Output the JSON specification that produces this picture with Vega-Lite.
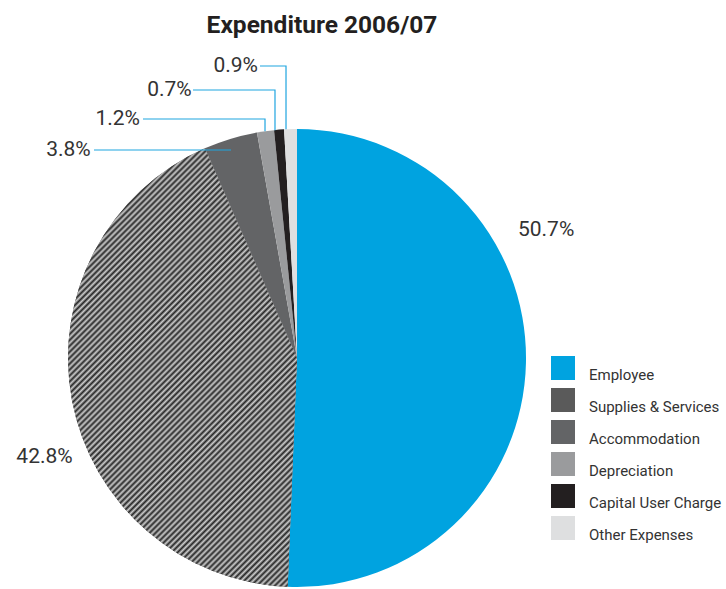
{
  "$schema": "https://vega.github.io/schema/vega-lite/v6.json",
  "width": 726,
  "height": 544,
  "autosize": {"type": "none"},
  "padding": {"left": 0, "top": 45, "right": 0, "bottom": 0},
  "title": {"text": "Expenditure 2006/07", "fontSize": 24.5, "fontWeight": "bold", "color": "#231f20", "anchor": "middle", "frame": "group", "dx": -41, "baseline": "alphabetic", "offset": -12},
  "config": {"view": {"stroke": null}, "font": "Roboto, sans-serif"},
  "datasets": {
    "slices": [
      {"cat": "Employee", "v": 50.7, "i": 1},
      {"cat": "Supplies & Services", "v": 42.8, "i": 2},
      {"cat": "Accommodation", "v": 3.8, "i": 3},
      {"cat": "Depreciation", "v": 1.2, "i": 4},
      {"cat": "Capital User Charge", "v": 0.7, "i": 5},
      {"cat": "Other Expenses", "v": 0.9, "i": 6}
    ],
    "leaders": [
      {"g": "a", "i": 0, "u": -0.1616, "v": 1.2751},
      {"g": "a", "i": 1, "u": -0.048, "v": 1.2751},
      {"g": "a", "i": 2, "u": -0.048, "v": 0.999},
      {"g": "b", "i": 0, "u": -0.4541, "v": 1.1703},
      {"g": "b", "i": 1, "u": -0.0961, "v": 1.1703},
      {"g": "b", "i": 2, "u": -0.0961, "v": 0.995},
      {"g": "c", "i": 0, "u": -0.6725, "v": 1.0437},
      {"g": "c", "i": 1, "u": -0.1397, "v": 1.0437},
      {"g": "c", "i": 2, "u": -0.1397, "v": 0.99},
      {"g": "d", "i": 0, "u": -0.8865, "v": 0.9083},
      {"g": "d", "i": 1, "u": -0.2882, "v": 0.9083}
    ],
    "labels": [
      {"t": "0.9%", "u": -0.1703, "v": 1.2751},
      {"t": "0.7%", "u": -0.4598, "v": 1.1703},
      {"t": "1.2%", "u": -0.6856, "v": 1.0437},
      {"t": "3.8%", "u": -0.9009, "v": 0.9083},
      {"t": "50.7%", "u": 1.2109, "v": 0.5585},
      {"t": "42.8%", "u": -0.9795, "v": -0.4332}
    ]
  },
  "layer": [
    {
      "data": {"name": "slices"},
      "mark": {"type": "arc", "outerRadius": 229},
      "encoding": {
        "x": {"datum": 0, "type": "quantitative", "scale": {"domain": [-1.29694, 1.87336], "nice": false, "zero": false}, "axis": null},
        "y": {"datum": 0, "type": "quantitative", "scale": {"domain": [-1.00873, 1.36681], "nice": false, "zero": false}, "axis": null},
        "theta": {"field": "v", "type": "quantitative", "stack": true},
        "order": {"field": "i", "type": "quantitative"},
        "color": {
          "field": "cat", "type": "nominal",
          "scale": {
            "domain": ["Employee", "Supplies & Services", "Accommodation", "Depreciation", "Capital User Charge", "Other Expenses"],
            "range": ["#00a3e0", "#5a5a5a", "#636466", "#9a9b9d", "#231f20", "#dedfe0"]
          },
          "legend": {
            "title": null, "orient": "none", "legendX": 551, "legendY": 311,
            "symbolType": "square", "symbolSize": 576, "symbolStrokeWidth": 0,
            "labelFont": "Roboto", "labelFontSize": 15, "labelColor": "#333333", "labelOffset": 14, "labelBaseline": "top", "rowPadding": 5, "padding": 0, "labelLimit": 300
          }
        }
      }
    },
    {
      "data": {"name": "slices"},
      "mark": {
        "type": "arc", "outerRadius": 229,
        "fill": {
          "gradient": "linear", "x1": 0.014478, "y1": 0.027755, "x2": 0.70757, "y2": 1.35644,
          "stops": [
            {"offset":0,"color":"#262626"},{"offset":0.004,"color":"#ccc"},{"offset":0.008,"color":"#262626"},{"offset":0.012,"color":"#ccc"},{"offset":0.016,"color":"#262626"},{"offset":0.02,"color":"#ccc"},{"offset":0.024,"color":"#262626"},{"offset":0.028,"color":"#ccc"},{"offset":0.032,"color":"#262626"},{"offset":0.036,"color":"#ccc"},{"offset":0.04,"color":"#262626"},{"offset":0.044,"color":"#ccc"},{"offset":0.048,"color":"#262626"},{"offset":0.052,"color":"#ccc"},{"offset":0.056,"color":"#262626"},{"offset":0.06,"color":"#ccc"},{"offset":0.064,"color":"#262626"},{"offset":0.068,"color":"#ccc"},{"offset":0.072,"color":"#262626"},{"offset":0.076,"color":"#ccc"},{"offset":0.08,"color":"#262626"},{"offset":0.084,"color":"#ccc"},{"offset":0.088,"color":"#262626"},{"offset":0.092,"color":"#ccc"},{"offset":0.096,"color":"#262626"},
            {"offset":0.1,"color":"#ccc"},{"offset":0.104,"color":"#262626"},{"offset":0.108,"color":"#ccc"},{"offset":0.112,"color":"#262626"},{"offset":0.116,"color":"#ccc"},{"offset":0.12,"color":"#262626"},{"offset":0.124,"color":"#ccc"},{"offset":0.128,"color":"#262626"},{"offset":0.132,"color":"#ccc"},{"offset":0.136,"color":"#262626"},{"offset":0.14,"color":"#ccc"},{"offset":0.144,"color":"#262626"},{"offset":0.148,"color":"#ccc"},{"offset":0.152,"color":"#262626"},{"offset":0.156,"color":"#ccc"},{"offset":0.16,"color":"#262626"},{"offset":0.164,"color":"#ccc"},{"offset":0.168,"color":"#262626"},{"offset":0.172,"color":"#ccc"},{"offset":0.176,"color":"#262626"},{"offset":0.18,"color":"#ccc"},{"offset":0.184,"color":"#262626"},{"offset":0.188,"color":"#ccc"},{"offset":0.192,"color":"#262626"},{"offset":0.196,"color":"#ccc"},
            {"offset":0.2,"color":"#262626"},{"offset":0.204,"color":"#ccc"},{"offset":0.208,"color":"#262626"},{"offset":0.212,"color":"#ccc"},{"offset":0.216,"color":"#262626"},{"offset":0.22,"color":"#ccc"},{"offset":0.224,"color":"#262626"},{"offset":0.228,"color":"#ccc"},{"offset":0.232,"color":"#262626"},{"offset":0.236,"color":"#ccc"},{"offset":0.24,"color":"#262626"},{"offset":0.244,"color":"#ccc"},{"offset":0.248,"color":"#262626"},{"offset":0.252,"color":"#ccc"},{"offset":0.256,"color":"#262626"},{"offset":0.26,"color":"#ccc"},{"offset":0.264,"color":"#262626"},{"offset":0.268,"color":"#ccc"},{"offset":0.272,"color":"#262626"},{"offset":0.276,"color":"#ccc"},{"offset":0.28,"color":"#262626"},{"offset":0.284,"color":"#ccc"},{"offset":0.288,"color":"#262626"},{"offset":0.292,"color":"#ccc"},{"offset":0.296,"color":"#262626"},
            {"offset":0.3,"color":"#ccc"},{"offset":0.304,"color":"#262626"},{"offset":0.308,"color":"#ccc"},{"offset":0.312,"color":"#262626"},{"offset":0.316,"color":"#ccc"},{"offset":0.32,"color":"#262626"},{"offset":0.324,"color":"#ccc"},{"offset":0.328,"color":"#262626"},{"offset":0.332,"color":"#ccc"},{"offset":0.336,"color":"#262626"},{"offset":0.34,"color":"#ccc"},{"offset":0.344,"color":"#262626"},{"offset":0.348,"color":"#ccc"},{"offset":0.352,"color":"#262626"},{"offset":0.356,"color":"#ccc"},{"offset":0.36,"color":"#262626"},{"offset":0.364,"color":"#ccc"},{"offset":0.368,"color":"#262626"},{"offset":0.372,"color":"#ccc"},{"offset":0.376,"color":"#262626"},{"offset":0.38,"color":"#ccc"},{"offset":0.384,"color":"#262626"},{"offset":0.388,"color":"#ccc"},{"offset":0.392,"color":"#262626"},{"offset":0.396,"color":"#ccc"},
            {"offset":0.4,"color":"#262626"},{"offset":0.404,"color":"#ccc"},{"offset":0.408,"color":"#262626"},{"offset":0.412,"color":"#ccc"},{"offset":0.416,"color":"#262626"},{"offset":0.42,"color":"#ccc"},{"offset":0.424,"color":"#262626"},{"offset":0.428,"color":"#ccc"},{"offset":0.432,"color":"#262626"},{"offset":0.436,"color":"#ccc"},{"offset":0.44,"color":"#262626"},{"offset":0.444,"color":"#ccc"},{"offset":0.448,"color":"#262626"},{"offset":0.452,"color":"#ccc"},{"offset":0.456,"color":"#262626"},{"offset":0.46,"color":"#ccc"},{"offset":0.464,"color":"#262626"},{"offset":0.468,"color":"#ccc"},{"offset":0.472,"color":"#262626"},{"offset":0.476,"color":"#ccc"},{"offset":0.48,"color":"#262626"},{"offset":0.484,"color":"#ccc"},{"offset":0.488,"color":"#262626"},{"offset":0.492,"color":"#ccc"},{"offset":0.496,"color":"#262626"},
            {"offset":0.5,"color":"#ccc"},{"offset":0.504,"color":"#262626"},{"offset":0.508,"color":"#ccc"},{"offset":0.512,"color":"#262626"},{"offset":0.516,"color":"#ccc"},{"offset":0.52,"color":"#262626"},{"offset":0.524,"color":"#ccc"},{"offset":0.528,"color":"#262626"},{"offset":0.532,"color":"#ccc"},{"offset":0.536,"color":"#262626"},{"offset":0.54,"color":"#ccc"},{"offset":0.544,"color":"#262626"},{"offset":0.548,"color":"#ccc"},{"offset":0.552,"color":"#262626"},{"offset":0.556,"color":"#ccc"},{"offset":0.56,"color":"#262626"},{"offset":0.564,"color":"#ccc"},{"offset":0.568,"color":"#262626"},{"offset":0.572,"color":"#ccc"},{"offset":0.576,"color":"#262626"},{"offset":0.58,"color":"#ccc"},{"offset":0.584,"color":"#262626"},{"offset":0.588,"color":"#ccc"},{"offset":0.592,"color":"#262626"},{"offset":0.596,"color":"#ccc"},
            {"offset":0.6,"color":"#262626"},{"offset":0.604,"color":"#ccc"},{"offset":0.608,"color":"#262626"},{"offset":0.612,"color":"#ccc"},{"offset":0.616,"color":"#262626"},{"offset":0.62,"color":"#ccc"},{"offset":0.624,"color":"#262626"},{"offset":0.628,"color":"#ccc"},{"offset":0.632,"color":"#262626"},{"offset":0.636,"color":"#ccc"},{"offset":0.64,"color":"#262626"},{"offset":0.644,"color":"#ccc"},{"offset":0.648,"color":"#262626"},{"offset":0.652,"color":"#ccc"},{"offset":0.656,"color":"#262626"},{"offset":0.66,"color":"#ccc"},{"offset":0.664,"color":"#262626"},{"offset":0.668,"color":"#ccc"},{"offset":0.672,"color":"#262626"},{"offset":0.676,"color":"#ccc"},{"offset":0.68,"color":"#262626"},{"offset":0.684,"color":"#ccc"},{"offset":0.688,"color":"#262626"},{"offset":0.692,"color":"#ccc"},{"offset":0.696,"color":"#262626"},
            {"offset":0.7,"color":"#ccc"},{"offset":0.704,"color":"#262626"},{"offset":0.708,"color":"#ccc"},{"offset":0.712,"color":"#262626"},{"offset":0.716,"color":"#ccc"},{"offset":0.72,"color":"#262626"},{"offset":0.724,"color":"#ccc"},{"offset":0.728,"color":"#262626"},{"offset":0.732,"color":"#ccc"},{"offset":0.736,"color":"#262626"},{"offset":0.74,"color":"#ccc"},{"offset":0.744,"color":"#262626"},{"offset":0.748,"color":"#ccc"},{"offset":0.752,"color":"#262626"},{"offset":0.756,"color":"#ccc"},{"offset":0.76,"color":"#262626"},{"offset":0.764,"color":"#ccc"},{"offset":0.768,"color":"#262626"},{"offset":0.772,"color":"#ccc"},{"offset":0.776,"color":"#262626"},{"offset":0.78,"color":"#ccc"},{"offset":0.784,"color":"#262626"},{"offset":0.788,"color":"#ccc"},{"offset":0.792,"color":"#262626"},{"offset":0.796,"color":"#ccc"},
            {"offset":0.8,"color":"#262626"},{"offset":0.804,"color":"#ccc"},{"offset":0.808,"color":"#262626"},{"offset":0.812,"color":"#ccc"},{"offset":0.816,"color":"#262626"},{"offset":0.82,"color":"#ccc"},{"offset":0.824,"color":"#262626"},{"offset":0.828,"color":"#ccc"},{"offset":0.832,"color":"#262626"},{"offset":0.836,"color":"#ccc"},{"offset":0.84,"color":"#262626"},{"offset":0.844,"color":"#ccc"},{"offset":0.848,"color":"#262626"},{"offset":0.852,"color":"#ccc"},{"offset":0.856,"color":"#262626"},{"offset":0.86,"color":"#ccc"},{"offset":0.864,"color":"#262626"},{"offset":0.868,"color":"#ccc"},{"offset":0.872,"color":"#262626"},{"offset":0.876,"color":"#ccc"},{"offset":0.88,"color":"#262626"},{"offset":0.884,"color":"#ccc"},{"offset":0.888,"color":"#262626"},{"offset":0.892,"color":"#ccc"},{"offset":0.896,"color":"#262626"},
            {"offset":0.9,"color":"#ccc"},{"offset":0.904,"color":"#262626"},{"offset":0.908,"color":"#ccc"},{"offset":0.912,"color":"#262626"},{"offset":0.916,"color":"#ccc"},{"offset":0.92,"color":"#262626"},{"offset":0.924,"color":"#ccc"},{"offset":0.928,"color":"#262626"},{"offset":0.932,"color":"#ccc"},{"offset":0.936,"color":"#262626"},{"offset":0.94,"color":"#ccc"},{"offset":0.944,"color":"#262626"},{"offset":0.948,"color":"#ccc"},{"offset":0.952,"color":"#262626"},{"offset":0.956,"color":"#ccc"},{"offset":0.96,"color":"#262626"},{"offset":0.964,"color":"#ccc"},{"offset":0.968,"color":"#262626"},{"offset":0.972,"color":"#ccc"},{"offset":0.976,"color":"#262626"},{"offset":0.98,"color":"#ccc"},{"offset":0.984,"color":"#262626"},{"offset":0.988,"color":"#ccc"},{"offset":0.992,"color":"#262626"},{"offset":0.996,"color":"#ccc"},
            {"offset":1,"color":"#262626"}
          ]
        }
      },
      "encoding": {
        "x": {"datum": 0, "type": "quantitative", "axis": null},
        "y": {"datum": 0, "type": "quantitative", "axis": null},
        "theta": {"field": "v", "type": "quantitative", "stack": true},
        "order": {"field": "i", "type": "quantitative"},
        "opacity": {"condition": {"test": "datum.cat === 'Supplies & Services'", "value": 1}, "value": 0}
      }
    },
    {
      "data": {"name": "leaders"},
      "mark": {"type": "line", "color": "#1fa5e0", "strokeWidth": 1.2},
      "encoding": {
        "x": {"field": "u", "type": "quantitative", "axis": null},
        "y": {"field": "v", "type": "quantitative", "axis": null},
        "detail": {"field": "g"},
        "order": {"field": "i", "type": "quantitative"}
      }
    },
    {
      "data": {"name": "labels"},
      "mark": {"type": "text", "align": "right", "baseline": "middle", "fontSize": 21, "color": "#333333"},
      "encoding": {
        "x": {"field": "u", "type": "quantitative", "axis": null},
        "y": {"field": "v", "type": "quantitative", "axis": null},
        "text": {"field": "t"}
      }
    }
  ]
}
